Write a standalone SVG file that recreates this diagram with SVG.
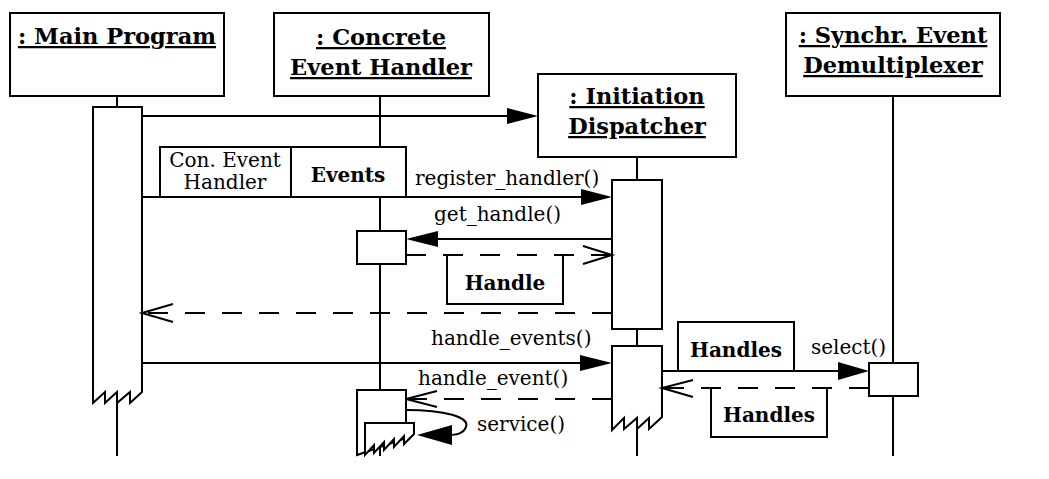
<svg xmlns="http://www.w3.org/2000/svg" width="1049" height="479" viewBox="0 0 1049 479">
<style>
.ln{stroke:#000;stroke-width:2;fill:none}
.bx{stroke:#000;stroke-width:2;fill:#fff}
.dsh{stroke:#000;stroke-width:2;fill:none;stroke-dasharray:20 17}
.ah{fill:#000;stroke:none}
.oh{stroke:#000;stroke-width:2;fill:none}
.hd{font-family:"DejaVu Serif",serif;font-weight:bold;font-size:22.5px;text-anchor:middle;text-decoration:underline;fill:#000}
.lb{font-family:"DejaVu Serif",serif;font-size:20px;fill:#000}
.bl{font-family:"DejaVu Serif",serif;font-weight:bold;font-size:20px;text-anchor:middle;fill:#000}
</style>
<rect width="1049" height="479" fill="#fff"/>
<g id="lifelines">
<line class="ln" x1="117" y1="96" x2="117" y2="456"/>
<line class="ln" x1="380" y1="96" x2="380" y2="456"/>
<line class="ln" x1="637" y1="157" x2="637" y2="456"/>
<line class="ln" x1="893" y1="96" x2="893" y2="456"/>
</g>
<g id="main-program">
<rect class="bx" x="10" y="13" width="214" height="83"/>
<text class="hd" x="117" y="44">: Main Program</text>
<path class="bx" d="M93,107 H142 V392 L130,403 V392 L117,403 V392 L105,403 V392 L93,403 Z"/>
</g>
<g id="concrete-event-handler">
<rect class="bx" x="274" y="13" width="215" height="83"/>
<text class="hd" x="381" y="45">: Concrete</text>
<text class="hd" x="381" y="75">Event Handler</text>
<rect class="bx" x="357" y="231" width="49" height="33"/>
<path class="bx" d="M357,390 H406 V438 L357,455 Z"/>
<path class="bx" d="M365,423 H414 V434 L404,444 V436 L394,447 V439 L384,450 V442 L374,453 V445 L365,455 Z"/>
</g>
<g id="initiation-dispatcher">
<rect class="bx" x="538" y="74" width="198" height="83"/>
<text class="hd" x="637" y="104">: Initiation</text>
<text class="hd" x="637" y="134">Dispatcher</text>
<rect class="bx" x="612" y="180" width="50" height="149"/>
<path class="bx" d="M612,346 H662 V417 L649,429 V418 L637,429 V418 L624,429 V418 L612,430 Z"/>
</g>
<g id="demultiplexer">
<rect class="bx" x="786" y="13" width="214" height="83"/>
<text class="hd" x="893" y="43">: Synchr. Event</text>
<text class="hd" x="893" y="73">Demultiplexer</text>
<rect class="bx" x="869" y="363" width="49" height="33"/>
</g>
<g id="notes">
<rect class="bx" x="160" y="147" width="246" height="50"/>
<line class="ln" x1="291" y1="147" x2="291" y2="197"/>
<text class="lb" x="225" y="167" text-anchor="middle">Con. Event</text>
<text class="lb" x="225" y="189" text-anchor="middle">Handler</text>
<text class="bl" x="348" y="182">Events</text>
<path class="bx" d="M447,255 V304 H563 V255"/>
<text class="bl" x="505" y="290">Handle</text>
<rect class="bx" x="678" y="322" width="116" height="49"/>
<text class="bl" x="736" y="357">Handles</text>
<path class="bx" d="M711,388 V437 H827 V388"/>
<text class="bl" x="769" y="422">Handles</text>
</g>
<g id="connectors">
<line class="ln" x1="142" y1="116" x2="510" y2="116"/>
<polygon class="ah" points="538,116 507,108 507,124"/>
<line class="ln" x1="142" y1="197" x2="585" y2="197"/>
<polygon class="ah" points="612,197 581,189 581,205"/>
<text class="lb" x="415" y="185">register_handler()</text>
<line class="ln" x1="612" y1="239" x2="434" y2="239"/>
<polygon class="ah" points="406,239 438,231 438,247"/>
<text class="lb" x="434" y="221">get_handle()</text>
<line class="dsh" x1="406" y1="255" x2="612" y2="255"/>
<polyline class="oh" points="583,246 612,255 583,264"/>
<line class="dsh" x1="612" y1="313" x2="142" y2="313"/>
<polyline class="oh" points="173,304 142,313 173,322"/>
<line class="ln" x1="142" y1="363" x2="584" y2="363"/>
<polygon class="ah" points="612,363 580,355 580,371"/>
<text class="lb" x="431" y="345">handle_events()</text>
<line class="dsh" x1="612" y1="399" x2="406" y2="399"/>
<polyline class="oh" points="437,391 406,399 437,407"/>
<text class="lb" x="418" y="385">handle_event()</text>
<line class="ln" x1="662" y1="371" x2="842" y2="371"/>
<polygon class="ah" points="869,371 838,362 838,380"/>
<text class="lb" x="811" y="354">select()</text>
<line class="dsh" x1="869" y1="388" x2="662" y2="388"/>
<polyline class="oh" points="693,380 662,388 693,397"/>
<path class="ln" d="M406,410 C445,410 470,417 466,427 C463,434 456,435 448,435"/>
<polygon class="ah" points="417,435 452,425 452,445"/>
<text class="lb" x="477" y="431">service()</text>
</g>
</svg>
